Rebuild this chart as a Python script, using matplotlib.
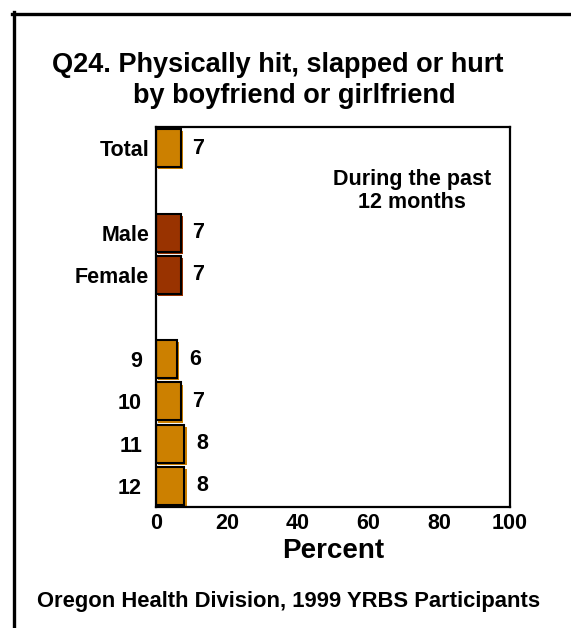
import matplotlib
matplotlib.use('Agg')
import matplotlib.pyplot as plt
import matplotlib.patheffects as pe
import matplotlib.transforms as mtransforms
from matplotlib.lines import Line2D

plt.rcParams['font.family'] = ['Liberation Sans', 'DejaVu Sans']
plt.rcParams['font.weight'] = 'bold'

# data
labels = ['Total', 'Male', 'Female', '9', '10', '11', '12']
slots = [0, 2, 3, 5, 6, 7, 8]
values = [7, 7, 7, 6, 7, 8, 8]
groups = ['all', 'sex', 'sex', 'grade', 'grade', 'grade', 'grade']
xticks = [0, 20, 40, 60, 80, 100]

ORANGE = '#CC8000'
BROWN = '#993300'
colors = {'all': ORANGE, 'sex': BROWN, 'grade': ORANGE}

W, H = 571, 628
fig = plt.figure(figsize=(W / 100, H / 100), dpi=100)


def fx(px):
    return px / W


def fy(py):
    return 1 - py / H


ax = fig.add_axes([fx(156), fy(507), fx(510) - fx(156), fy(127) - fy(507)])

for s, v, g in zip(slots, values, groups):
    c = colors[g]
    ax.barh(s, v, height=0.9, color=c, edgecolor='black', linewidth=1.5,
            path_effects=[pe.SimplePatchShadow(offset=(1.6, -1.6), shadow_rgbFace=c, alpha=1.0),
                          pe.Normal()])
    ax.annotate(str(v), xy=(v, s), xytext=(8.5, 0), textcoords='offset points',
                ha='left', va='center', fontsize=15.5, fontweight='bold')

ax.set_xlim(0, 100)
ax.set_ylim(8.5, -0.5)
ax.set_xticks(xticks)
ax.set_xticklabels([str(t) for t in xticks], fontsize=15.5, fontweight='bold')
ax.set_yticks(slots)
ax.set_yticklabels(labels, fontsize=15.5, fontweight='bold')
ax.tick_params(axis='both', length=0)
ax.tick_params(axis='x', pad=4)
ax.tick_params(axis='y', pad=5)

# grade labels sit a little further left in the original
shift = mtransforms.ScaledTranslation(-5 / 72, 0, fig.dpi_scale_trans)
for lab, g in zip(ax.get_yticklabels(), groups):
    if g == 'grade':
        lab.set_transform(lab.get_transform() + shift)

for sp in ax.spines.values():
    sp.set_linewidth(1.6)
ax.set_xlabel('Percent', fontsize=20, fontweight='bold', labelpad=3)

ax.text(0.722, 0.832, 'During the past\n12 months', transform=ax.transAxes,
        ha='center', va='center', fontsize=15.5, fontweight='bold', linespacing=1.15)

fig.text(fx(52), fy(72), 'Q24. Physically hit, slapped or hurt',
         ha='left', va='baseline', fontsize=19.5, fontweight='bold')
fig.text(fx(133), fy(103), 'by boyfriend or girlfriend',
         ha='left', va='baseline', fontsize=19.5, fontweight='bold')

fig.text(fx(289), fy(601), 'Oregon Health Division, 1999 YRBS Participants',
         ha='center', va='center', fontsize=15.8, fontweight='bold')

# partial outer frame (left and top edges)
fig.add_artist(Line2D([fx(13.5), fx(13.5)], [0, fy(12)], color='black', linewidth=2.4,
                      transform=fig.transFigure, solid_capstyle='projecting'))
fig.add_artist(Line2D([fx(12), 1], [fy(13.5), fy(13.5)], color='black', linewidth=2.4,
                      transform=fig.transFigure))

fig.savefig('out.png', dpi=100)
